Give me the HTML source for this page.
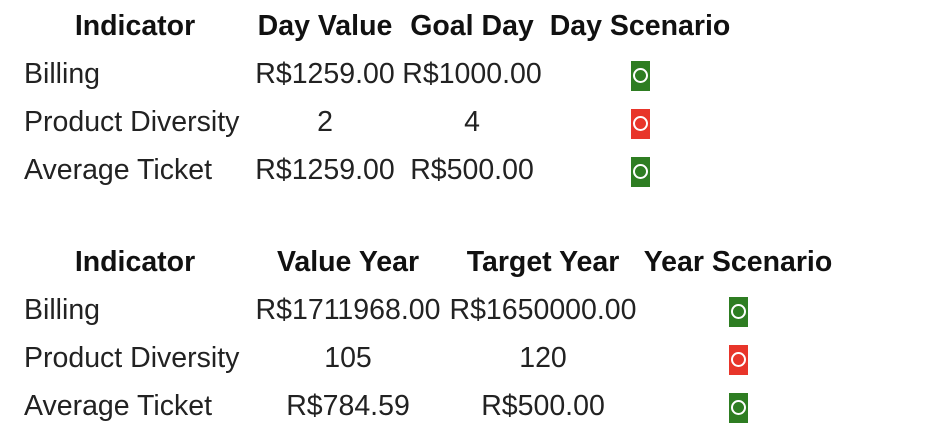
<!DOCTYPE html>
<html><head><meta charset="utf-8"><style>
body{margin:0;width:938px;height:444px;background:#fff;position:relative;overflow:hidden;font-family:"Liberation Sans",sans-serif;color:#222;font-size:28.5px}
.t{position:absolute;white-space:nowrap;line-height:30px}
.c{transform:translateX(-50%)}
.h{font-weight:bold;color:#111}
.ic{position:absolute;width:19px;height:30px}
.ic::after{content:"";position:absolute;left:2px;top:7px;width:11px;height:11px;border:2px solid #fff;border-radius:50%}
.g{background:#2e7d22}.r{background:#e8352a}
</style></head><body>
<div>
<div class="t c h" style="left:135px;top:11px">Indicator</div>
<div class="t c h" style="left:325px;top:11px">Day Value</div>
<div class="t c h" style="left:472px;top:11px">Goal Day</div>
<div class="t c h" style="left:640px;top:11px">Day Scenario</div>
<div class="t" style="left:24px;top:59px">Billing</div>
<div class="t c" style="left:325px;top:59px">R$1259.00</div>
<div class="t c" style="left:472px;top:59px">R$1000.00</div>
<div class="ic g" style="left:631px;top:61px"></div>
<div class="t" style="left:24px;top:107px">Product Diversity</div>
<div class="t c" style="left:325px;top:107px">2</div>
<div class="t c" style="left:472px;top:107px">4</div>
<div class="ic r" style="left:631px;top:109px"></div>
<div class="t" style="left:24px;top:155px">Average Ticket</div>
<div class="t c" style="left:325px;top:155px">R$1259.00</div>
<div class="t c" style="left:472px;top:155px">R$500.00</div>
<div class="ic g" style="left:631px;top:157px"></div>
</div>
<div>
<div class="t c h" style="left:135px;top:247px">Indicator</div>
<div class="t c h" style="left:348px;top:247px">Value Year</div>
<div class="t c h" style="left:543px;top:247px">Target Year</div>
<div class="t c h" style="left:738px;top:247px">Year Scenario</div>
<div class="t" style="left:24px;top:295px">Billing</div>
<div class="t c" style="left:348px;top:295px">R$1711968.00</div>
<div class="t c" style="left:543px;top:295px">R$1650000.00</div>
<div class="ic g" style="left:729px;top:297px"></div>
<div class="t" style="left:24px;top:343px">Product Diversity</div>
<div class="t c" style="left:348px;top:343px">105</div>
<div class="t c" style="left:543px;top:343px">120</div>
<div class="ic r" style="left:729px;top:345px"></div>
<div class="t" style="left:24px;top:391px">Average Ticket</div>
<div class="t c" style="left:348px;top:391px">R$784.59</div>
<div class="t c" style="left:543px;top:391px">R$500.00</div>
<div class="ic g" style="left:729px;top:393px"></div>
</div>
</body></html>
